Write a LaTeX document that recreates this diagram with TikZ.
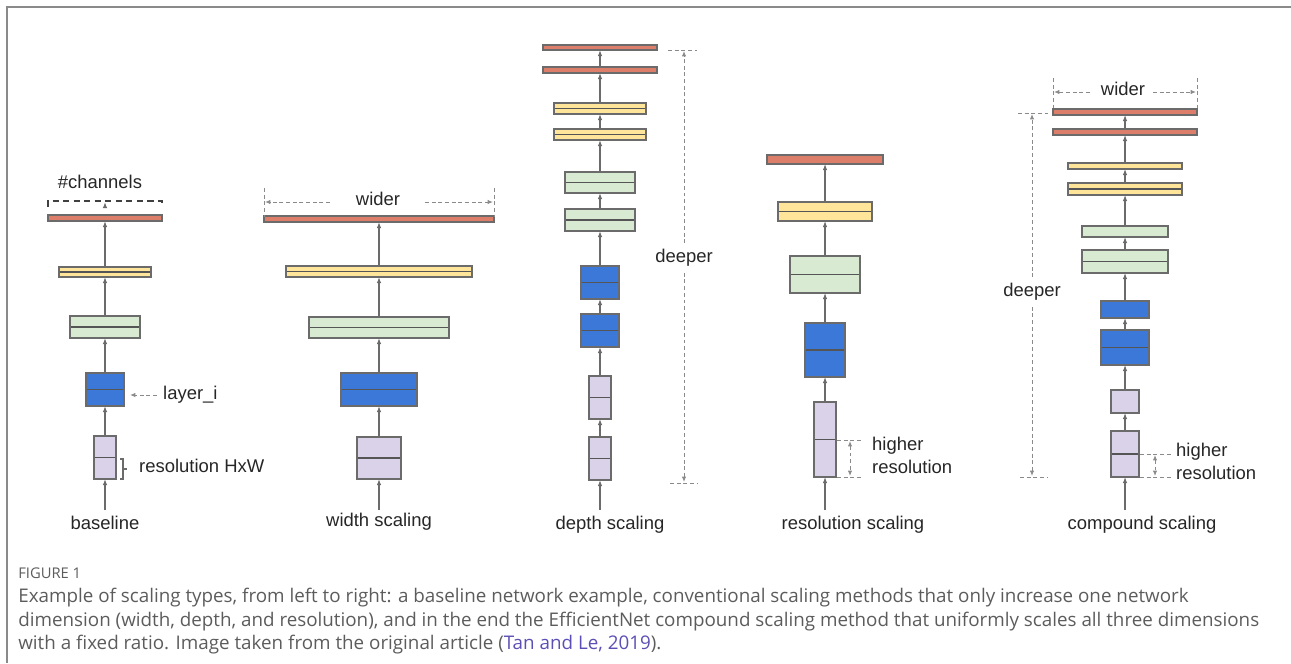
\documentclass[tikz,border=0pt]{standalone}
\usepackage{fontspec}
\setmainfont{Liberation Sans}
\newfontfamily\capfont{Open Sans}
\usetikzlibrary{arrows.meta,fit,positioning}

\definecolor{barred}{HTML}{DD7E6B}
\definecolor{baryellow}{HTML}{FFE599}
\definecolor{bargreen}{HTML}{D9EAD3}
\definecolor{barblue}{HTML}{3C78D8}
\definecolor{barlav}{HTML}{D9D2E9}
\definecolor{edgegray}{HTML}{6B6B6B}
\definecolor{splitgray}{HTML}{555555}
\definecolor{dimgray}{HTML}{8A8A8A}
\definecolor{capgray}{HTML}{5C5C5C}
\definecolor{citeblue}{HTML}{5B4FB5}

\begin{document}
\begin{tikzpicture}
    [
      x=0.02cm, y=-0.02cm,
      every node/.style={font=\fontsize{10.5}{13}\selectfont, text=black!85},
      layer/.style={draw=edgegray, line width=0.65pt, inner sep=0pt, outer sep=0pt},
      topbar/.style={layer, fill=barred},
      yelbar/.style={layer, fill=baryellow},
      grnbox/.style={layer, fill=bargreen},
      blubox/.style={layer, fill=barblue},
      lavbox/.style={layer, fill=barlav},
      split/.style={path picture={\draw [splitgray, line width=1pt]
          (path picture bounding box.west) -- (path picture bounding box.east);}},
      post/.style={-{Latex[length=3.5pt,width=2.6pt]}, draw=edgegray, line width=0.6pt},
      dim/.style={dimgray, line width=0.5pt, dash pattern=on 2.2pt off 1.6pt},
      dimarrow/.style={dim, -{Latex[length=3pt,width=2.4pt]}},
      caption/.style={anchor=west, inner xsep=0pt, text=capgray, font=\capfont\fontsize{10.7}{12}\selectfont},
    ]

    \useasboundingbox (0,0) rectangle (1291,663);
    % frame
    \draw [dimgray, line width=1.1pt] (7,663) -- (7,7) -- (1291,7);

    % ---- baseline
    \node (base-red) [topbar, fit={(48,215) (162,221)}] {};
    \node (base-yel) [yelbar, split, fit={(59,267) (151,277)}] {};
    \node (base-grn) [grnbox, split, fit={(70,316) (140,338)}] {};
    \node (base-blu) [blubox, split, fit={(86,373) (124,406)}] {};
    \node (base-lav) [lavbox, split, fit={(94,436) (116,479)}] {};
    \coordinate (base-in) at (105,510);
    \node (base-lbl) at (105,523) {baseline};

    \path
    (base-in) edge [post] (base-lav.south)
    (base-lav.north) edge [post] (base-blu.south)
    (base-blu.north) edge [post] (base-grn.south)
    (base-grn.north) edge [post] (base-yel.south)
    (base-yel.north) edge [post] (base-red.south)
    ;

    \draw [black!75, line width=0.9pt, dash pattern=on 3.5pt off 2.5pt]
      (48,207) -- (48,201) -- (162,201) -- (162,207);
    \coordinate (chan-foot) at (105,207);
    \coordinate (chan-top) at (105,202);
    \draw [post] (chan-foot) -- (chan-top);
    \node (chan-lbl) at (100,182) {\#channels};

    \node (layer-lbl) [anchor=west] at (157,395) {layer\_i};
    \draw [dimarrow] (layer-lbl.west) -- ++(-27,0);

    \draw [edgegray, line width=0.6pt] (120,459) -- (123,459) -- (123,479) -- (120,479)
      (123,469) -- (127,469);
    \node (hw-lbl) [anchor=west] at (133,466) {resolution HxW};

    % ---- width scaling
    \node (wide-red) [topbar, fit={(264,216) (494,222)}] {};
    \node (wide-yel) [yelbar, split, fit={(286,266) (472,277)}] {};
    \node (wide-grn) [grnbox, split, fit={(309,317) (449,338)}] {};
    \node (wide-blu) [blubox, split, fit={(341,373) (417,406)}] {};
    \node (wide-lav) [lavbox, split, fit={(357,437) (401,479)}] {};
    \coordinate (wide-in) at (379,510);
    \node (wide-lbl) at (379,522) {width scaling};

    \path
    (wide-in) edge [post] (wide-lav.south)
    (wide-lav.north) edge [post] (wide-blu.south)
    (wide-blu.north) edge [post] (wide-grn.south)
    (wide-grn.north) edge [post] (wide-yel.south)
    (wide-yel.north) edge [post] (wide-red.south)
    ;

    \node (wide-txt) at (378,199) {wider};
    \draw [dim] (264,188) -- (264,217) (494,188) -- (494,217);
    \draw [dimarrow] (330,202) -- (265,202);
    \draw [dimarrow] (425,202) -- (493,202);

    % ---- depth scaling
    \node (deep-red1) [topbar, fit={(543,45) (657,50)}] {};
    \node (deep-red2) [topbar, fit={(543,67) (657,73)}] {};
    \node (deep-yel1) [yelbar, split, fit={(554,103) (646,114)}] {};
    \node (deep-yel2) [yelbar, split, fit={(554,129) (646,140)}] {};
    \node (deep-grn1) [grnbox, split, fit={(565,172) (635,193)}] {};
    \node (deep-grn2) [grnbox, split, fit={(565,209) (635,231)}] {};
    \node (deep-blu1) [blubox, split, fit={(581,266) (619,299)}] {};
    \node (deep-blu2) [blubox, split, fit={(581,314) (619,347)}] {};
    \node (deep-lav1) [lavbox, split, fit={(589,376) (611,419)}] {};
    \node (deep-lav2) [lavbox, split, fit={(589,437) (611,480)}] {};
    \coordinate (deep-in) at (600,510);
    \node (deep-lbl) at (610,525) {depth scaling};

    \path
    (deep-in) edge [post] (deep-lav2.south)
    (deep-lav2.north) edge [post] (deep-lav1.south)
    (deep-lav1.north) edge [post] (deep-blu2.south)
    (deep-blu2.north) edge [post] (deep-blu1.south)
    (deep-blu1.north) edge [post] (deep-grn2.south)
    (deep-grn2.north) edge [post] (deep-grn1.south)
    (deep-grn1.north) edge [post] (deep-yel2.south)
    (deep-yel2.north) edge [post] (deep-yel1.south)
    (deep-yel1.north) edge [post] (deep-red2.south)
    (deep-red2.north) edge [post] (deep-red1.south)
    ;

    \node (deep-txt) at (684,258) {deeper};
    \draw [dim] (668,50) -- (697,50) (670,483) -- (697,483);
    \draw [dimarrow] (deep-txt.north) -- (684,51);
    \draw [dimarrow] (deep-txt.south) -- (684,482);

    % ---- resolution scaling
    \node (res-red) [topbar, fit={(767,155) (883,164)}] {};
    \node (res-yel) [yelbar, split, fit={(778,202) (872,221)}] {};
    \node (res-grn) [grnbox, split, fit={(790,256) (860,293)}] {};
    \node (res-blu) [blubox, split, fit={(805,323) (845,377)}] {};
    \node (res-lav) [lavbox, split, fit={(814,402) (836,477)}] {};
    \coordinate (res-in) at (825,510);
    \node (res-lbl) at (853,525) {resolution scaling};

    \path
    (res-in) edge [post] (res-lav.south)
    (res-lav.north) edge [post] (res-blu.south)
    (res-blu.north) edge [post] (res-grn.south)
    (res-grn.north) edge [post] (res-yel.south)
    (res-yel.north) edge [post] (res-red.south)
    ;

    \draw [dim] (837,440) -- (863,440) (837,477) -- (863,477);
    \draw [dim, {Latex[length=3pt,width=2.4pt]}-{Latex[length=3pt,width=2.4pt]}]
      (850,441) -- (850,476);
    \node (res-txt) [anchor=north west, align=left] at (866,431) {higher\\resolution};

    % ---- compound scaling
    \node (comp-red1) [topbar, fit={(1053,109) (1197,115)}] {};
    \node (comp-red2) [topbar, fit={(1053,129) (1197,135)}] {};
    \node (comp-yel1) [yelbar, fit={(1068,163) (1182,169)}] {};
    \node (comp-yel2) [yelbar, split, fit={(1068,183) (1182,195)}] {};
    \node (comp-grn1) [grnbox, fit={(1082,226) (1168,237)}] {};
    \node (comp-grn2) [grnbox, split, fit={(1082,250) (1168,273)}] {};
    \node (comp-blu1) [blubox, fit={(1101,301) (1149,318)}] {};
    \node (comp-blu2) [blubox, split, fit={(1101,330) (1149,365)}] {};
    \node (comp-lav1) [lavbox, fit={(1111,390) (1139,413)}] {};
    \node (comp-lav2) [lavbox, split, fit={(1111,431) (1139,477)}] {};
    \coordinate (comp-in) at (1125,510);
    \node (comp-lbl) at (1142,525) {compound scaling};

    \path
    (comp-in) edge [post] (comp-lav2.south)
    (comp-lav2.north) edge [post] (comp-lav1.south)
    (comp-lav1.north) edge [post] (comp-blu2.south)
    (comp-blu2.north) edge [post] (comp-blu1.south)
    (comp-blu1.north) edge [post] (comp-grn2.south)
    (comp-grn2.north) edge [post] (comp-grn1.south)
    (comp-grn1.north) edge [post] (comp-yel2.south)
    (comp-yel2.north) edge [post] (comp-yel1.south)
    (comp-yel1.north) edge [post] (comp-red2.south)
    (comp-red2.north) edge [post] (comp-red1.south)
    ;

    \node (comp-wide) at (1123,89) {wider};
    \draw [dim] (1053,78) -- (1053,108) (1197,78) -- (1197,108);
    \draw [dimarrow] (1090,92) -- (1054,92);
    \draw [dimarrow] (1153,92) -- (1196,92);

    \node (comp-deep) at (1032,292) {deeper};
    \draw [dim] (1018,113) -- (1048,113) (1020,477) -- (1047,477);
    \draw [dimarrow] (comp-deep.north) -- (1032,114);
    \draw [dimarrow] (comp-deep.south) -- (1032,476);

    \draw [dim] (1140,454) -- (1172,454) (1140,477) -- (1172,477);
    \draw [dim, {Latex[length=3pt,width=2.4pt]}-{Latex[length=3pt,width=2.4pt]}]
      (1155,455) -- (1155,476);
    \node (comp-txt) [anchor=north west, align=left] at (1170,437) {higher\\resolution};

    % ---- caption
    \node (fig-num) [caption, font=\capfont\fontsize{8.4}{10}\selectfont] at (18,573) {FIGURE 1};
    \node (cap-1) [caption] at (18,598) {Example of scaling types, from left to right: a baseline network example, conventional scaling methods that only increase one network};
    \node (cap-2) [caption] at (18,622) {dimension (width, depth, and resolution), and in the end the EfficientNet compound scaling method that uniformly scales all three dimensions};
    \node (cap-3) [caption] at (18,645) {with a fixed ratio. Image taken from the original article (\textcolor{citeblue}{Tan and Le, 2019}).};

  \end{tikzpicture}
\end{document}
